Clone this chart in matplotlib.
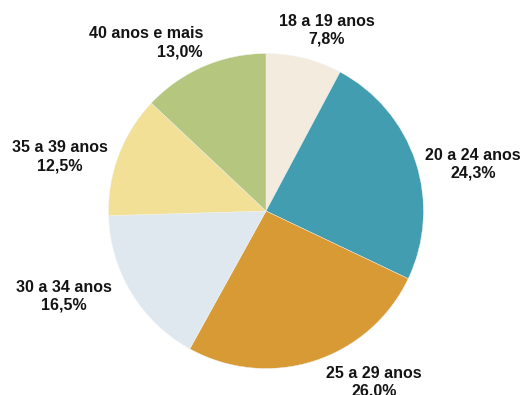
import matplotlib
matplotlib.use("Agg")
import matplotlib.pyplot as plt

# age groups and their share (%)
faixas = ["18 a 19 anos", "20 a 24 anos", "25 a 29 anos",
          "30 a 34 anos", "35 a 39 anos", "40 anos e mais"]
percentuais = [7.8, 24.3, 26.0, 16.5, 12.5, 13.0]
cores = ["#F3EBDD", "#429DB0", "#D89A35", "#DFE8EF", "#F1E095", "#B5C67E"]

# label anchor (pixels from top-left) and horizontal alignment
pos_rotulos = [(327, 30, "center"), (473, 164, "center"), (374, 382, "center"),
               (64, 296, "center"), (60, 157, "center"), (203, 43, "right")]

W, H = 521, 395
fig = plt.figure(figsize=(W / 100, H / 100), dpi=100)
ax = fig.add_axes([0, 0, 1, 1])

ax.pie(percentuais, colors=cores, startangle=90, counterclock=False,
       center=(266, H - 211), radius=157.5, frame=True,
       wedgeprops=dict(linewidth=0.3, edgecolor="#f4f4f4"))
ax.set_xlim(0, W)
ax.set_ylim(0, H)
ax.set_aspect("equal")
ax.axis("off")

for nome, val, (px, py, ha) in zip(faixas, percentuais, pos_rotulos):
    txt = f"{nome}\n{val:.1f}%".replace(".", ",")
    ax.text(px, H - py, txt, ha=ha, va="center", fontsize=11.5,
            fontweight="bold", family="Liberation Sans", color="#141414",
            linespacing=1.25, multialignment=ha)

fig.savefig("out.png", dpi=100)
